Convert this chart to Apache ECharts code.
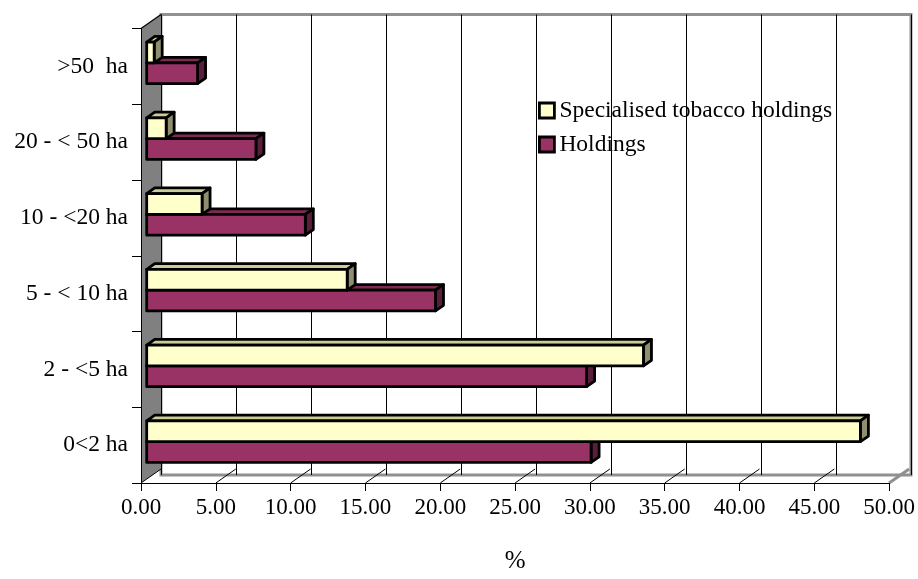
<!DOCTYPE html>
<html>
<head>
<meta charset="utf-8">
<script src="https://cdn.jsdelivr.net/npm/echarts@6/dist/echarts.min.js"></script>
<style>html,body{margin:0;padding:0;background:#fff;}#c{width:918px;height:579px;}</style>
</head>
<body>
<div id="c"></div>
<script>
const categories = ['0<2 ha', '2 - <5 ha', '5 - < 10 ha', '10 - <20 ha', '20 - < 50 ha', '>50  ha'];
const specialised = [47.7, 33.2, 13.4, 3.7, 1.3, 0.5];
const holdings = [29.7, 29.4, 19.3, 10.6, 7.3, 3.4];
const xTicks = [0, 5, 10, 15, 20, 25, 30, 35, 40, 45, 50];
const seriesNames = ['Specialised tobacco holdings', 'Holdings'];

const FONT = 'Liberation Serif, Times New Roman, serif';
const DX = 20, DY = -14;        // full depth vector of the 3D box
const FRONT = 0.285;            // depth of the bar front faces
const BAR_D = 0.4;              // depth of the bars

const chart = echarts.init(document.getElementById('c'), null, {renderer: 'canvas'});

function barRenderer(upper, front, top, side) {
  return function (params, api) {
    const v = api.value(0), i = api.value(1);
    const p0 = api.coord([0, i]), p1 = api.coord([v, i]);
    const band = Math.abs(api.size([0, 1])[1]);
    const bh = band * 0.275;
    const cy = p0[1] + 0.5;
    const y0 = (upper ? cy - bh : cy) + FRONT * DY;
    const y1 = y0 + bh;
    const x0 = p0[0] + FRONT * DX, x1 = p1[0] + FRONT * DX;
    const dx = BAR_D * DX, dy = BAR_D * DY;
    const st = {stroke: '#000', lineWidth: 2.8, lineJoin: 'round'};
    return {type: 'group', children: [
      {type: 'polygon', shape: {points: [[x0, y0], [x1, y0], [x1 + dx, y0 + dy], [x0 + dx, y0 + dy]]}, style: Object.assign({fill: top}, st)},
      {type: 'polygon', shape: {points: [[x1, y0], [x1, y1], [x1 + dx, y1 + dy], [x1 + dx, y0 + dy]]}, style: Object.assign({fill: side}, st)},
      {type: 'rect', shape: {x: x0, y: y0, width: x1 - x0, height: y1 - y0}, style: Object.assign({fill: front}, st)}
    ]};
  };
}

function wallRenderer(params, api) {
  const cs = params.coordSys;
  const gx = cs.x, gy = cs.y, gw = cs.width, gh = cs.height;
  const children = [];
  children.push({type: 'polygon', shape: {points: [[gx, gy], [gx + DX, gy + DY], [gx + DX, gy + gh + DY], [gx, gy + gh]]},
    style: {fill: '#808080', stroke: null}});
  children.push({type: 'line', shape: {x1: gx, y1: gy, x2: gx + DX, y2: gy + DY}, style: {stroke: '#000', lineWidth: 1.2}});
  xTicks.forEach(function (t) {
    const x = api.coord([t, 0])[0];
    const last = t === xTicks[xTicks.length - 1];
    children.push({type: 'line', shape: {x1: x, y1: gy + gh, x2: x + DX, y2: gy + gh + DY},
      style: {stroke: last ? '#909090' : '#000', lineWidth: last ? 3 : 1}});
  });
  return {type: 'group', children: children};
}

const option = {
  backgroundColor: '#fff',
  animation: false,
  textStyle: {fontFamily: FONT},
  legend: {
    data: seriesNames,
    orient: 'vertical',
    left: 533, top: 93,
    itemWidth: 15, itemHeight: 15, itemGap: 9,
    icon: 'rect',
    itemStyle: {borderColor: '#000', borderWidth: 2.8},
    textStyle: {fontFamily: FONT, fontSize: 23.5, color: '#000', lineHeight: 25}
  },
  grid: [
    {left: 141, right: 27, top: 28.5, bottom: 90, containLabel: false},
    {left: 141 + DX, right: 27 - DX, top: 28.5 + DY, bottom: 90 - DY, show: true,
      borderColor: '#909090', borderWidth: 3, backgroundColor: '#fff', z: 0}
  ],
  xAxis: [
    {type: 'value', gridIndex: 0, min: 0, max: 50, interval: 5, z: 10,
      axisLine: {show: true, lineStyle: {color: '#000', width: 1}},
      axisTick: {show: true, length: 8, lineStyle: {color: '#000'}},
      splitLine: {show: false},
      axisLabel: {margin: 13, fontSize: 23, fontFamily: FONT, color: '#000', formatter: function (v) { return v.toFixed(2); }},
      name: '%', nameLocation: 'middle', nameGap: 66,
      nameTextStyle: {fontSize: 25, fontFamily: FONT, color: '#000'}},
    {type: 'value', gridIndex: 1, min: 0, max: 50, interval: 5, z: 0,
      axisLine: {show: false}, axisTick: {show: false}, axisLabel: {show: false},
      splitLine: {show: true, lineStyle: {color: '#000', width: 1}}}
  ],
  yAxis: [
    {type: 'category', gridIndex: 0, data: categories, z: 10,
      axisLine: {show: true, lineStyle: {color: '#000', width: 1}},
      axisTick: {show: true, length: 9, lineStyle: {color: '#000'}},
      axisLabel: {margin: 13, fontSize: 23.5, fontFamily: FONT, color: '#000'}},
    {type: 'value', gridIndex: 1, show: false, splitLine: {show: false}}
  ],
  series: [
    {type: 'custom', name: '_walls', xAxisIndex: 0, yAxisIndex: 0, z: 1, silent: true,
      renderItem: wallRenderer, data: [[0, 0]]},
    {type: 'custom', name: seriesNames[1], xAxisIndex: 0, yAxisIndex: 0, z: 3,
      itemStyle: {color: '#993366'},
      encode: {x: 0, y: 1},
      renderItem: barRenderer(false, '#993366', '#7f2a55', '#5a1e3c'),
      data: holdings.map(function (v, i) { return [v, i]; })},
    {type: 'custom', name: seriesNames[0], xAxisIndex: 0, yAxisIndex: 0, z: 4,
      itemStyle: {color: '#FFFFCC'},
      encode: {x: 0, y: 1},
      renderItem: barRenderer(true, '#FFFFCC', '#CCCC99', '#8f8f70'),
      data: specialised.map(function (v, i) { return [v, i]; })}
  ]
};
chart.setOption(option);
</script>
</body>
</html>
